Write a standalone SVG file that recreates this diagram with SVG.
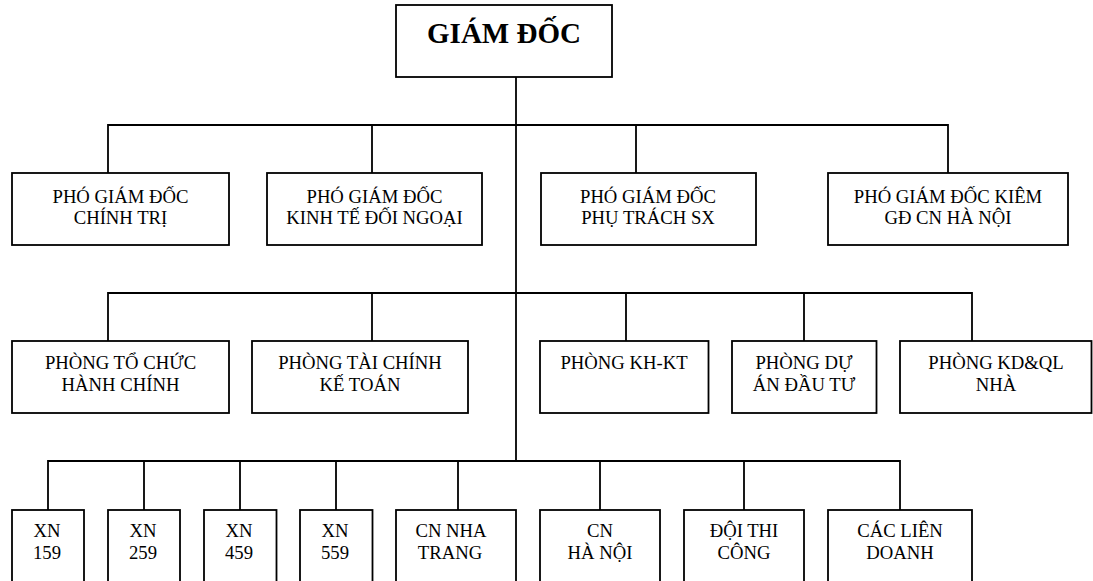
<svg xmlns="http://www.w3.org/2000/svg" width="1093" height="581" viewBox="0 0 1093 581" font-family="'Liberation Serif', 'DejaVu Serif', serif">
<style>
.box{fill:#fff;stroke:#000;stroke-width:1.8}
.ln{fill:none;stroke:#000;stroke-width:1.8}
text{font-family:'Liberation Serif','DejaVu Serif',serif;font-size:18.7px;fill:#000;text-anchor:middle}
.title{font-size:29px;font-weight:bold}
</style>
<rect width="1093" height="581" fill="#fff"/>
<g id="connectors">
<path class="ln" d="M516 77V461"/>
<path class="ln" d="M108 173V125H948V173M372 125V173M636 125V173"/>
<path class="ln" d="M108 341V293H972V341M372 293V341M626 293V341M804 293V341"/>
<path class="ln" d="M48 510V461H900V510M144 461V510M240 461V510M336 461V510M458 461V510M600 461V510M744 461V510"/>
</g>
<g id="giam-doc"><rect class="box" x="396" y="5" width="216" height="72"/><text class="title" x="504" y="43" font-family="'Liberation Serif', serif">GIÁM ĐỐC</text></g>
<g id="pgd-chinh-tri"><rect class="box" x="12" y="173" width="217" height="72"/><text x="120.5" y="203">PHÓ GIÁM ĐỐC</text><text x="120.5" y="224">CHÍNH TRỊ</text></g>
<g id="pgd-kinh-te"><rect class="box" x="267" y="173" width="215" height="72"/><text x="374.5" y="203">PHÓ GIÁM ĐỐC</text><text x="374.5" y="224">KINH TẾ ĐỐI NGOẠI</text></g>
<g id="pgd-sx"><rect class="box" x="541" y="173" width="215" height="72"/><text x="648" y="203">PHÓ GIÁM ĐỐC</text><text x="648" y="224">PHỤ TRÁCH SX</text></g>
<g id="pgd-hn"><rect class="box" x="828" y="173" width="240" height="72"/><text x="948" y="203">PHÓ GIÁM ĐỐC KIÊM</text><text x="948" y="224">GĐ CN HÀ NỘI</text></g>
<g id="p-tchc"><rect class="box" x="12" y="341" width="217" height="72"/><text x="120.5" y="369">PHÒNG TỔ CHỨC</text><text x="120.5" y="391">HÀNH CHÍNH</text></g>
<g id="p-tckt"><rect class="box" x="252" y="341" width="216" height="72"/><text x="360" y="369">PHÒNG TÀI CHÍNH</text><text x="360" y="391">KẾ TOÁN</text></g>
<g id="p-khkt"><rect class="box" x="540" y="341" width="168.5" height="72"/><text x="624" y="369">PHÒNG KH-KT</text></g>
<g id="p-dada"><rect class="box" x="732" y="341" width="144.5" height="72"/><text x="804" y="369">PHÒNG DỰ</text><text x="804" y="391">ÁN ĐẦU TƯ</text></g>
<g id="p-kdql"><rect class="box" x="900" y="341" width="191.5" height="72"/><text x="996" y="369">PHÒNG KD&amp;QL</text><text x="996" y="391">NHÀ</text></g>
<g id="xn159"><rect class="box" x="12" y="510" width="72" height="90"/><text x="47" y="537">XN</text><text x="47" y="559">159</text></g>
<g id="xn259"><rect class="box" x="108" y="510" width="72" height="90"/><text x="143" y="537">XN</text><text x="143" y="559">259</text></g>
<g id="xn459"><rect class="box" x="204" y="510" width="72.5" height="90"/><text x="239" y="537">XN</text><text x="239" y="559">459</text></g>
<g id="xn559"><rect class="box" x="300" y="510" width="72.5" height="90"/><text x="335" y="537">XN</text><text x="335" y="559">559</text></g>
<g id="cn-nt"><rect class="box" x="396" y="510" width="120" height="90"/><text x="451" y="537">CN NHA</text><text x="450" y="559">TRANG</text></g>
<g id="cn-hn"><rect class="box" x="540" y="510" width="120" height="90"/><text x="600" y="537">CN</text><text x="600" y="559">HÀ NỘI</text></g>
<g id="doi-tc"><rect class="box" x="684" y="510" width="120" height="90"/><text x="744" y="537">ĐỘI THI</text><text x="744" y="559">CÔNG</text></g>
<g id="lien-doanh"><rect class="box" x="828" y="510" width="144" height="90"/><text x="900" y="537">CÁC LIÊN</text><text x="900" y="559">DOANH</text></g>
</svg>
